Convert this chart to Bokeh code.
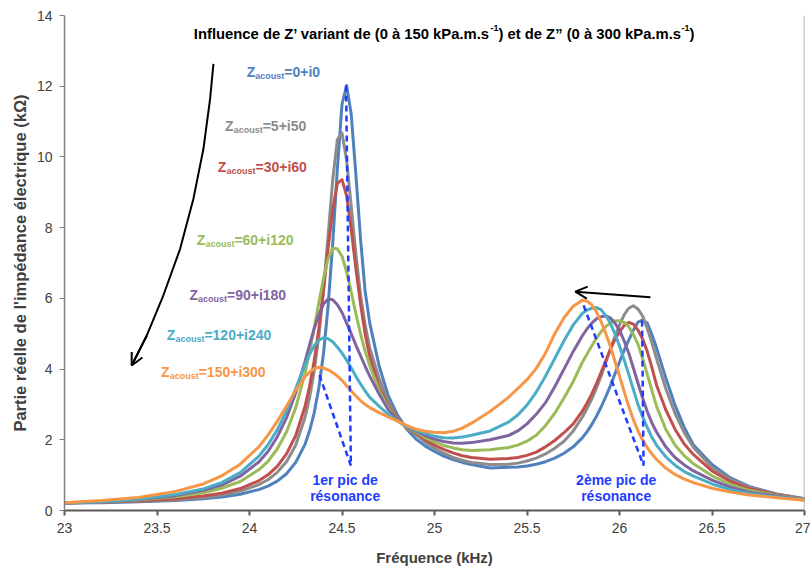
from bokeh.plotting import figure
from bokeh.models import Range1d, FixedTicker, Label, Arrow, OpenHead, Span
from bokeh.embed import file_html
from bokeh.resources import INLINE

# ---------------- data ----------------
freq_khz = [23.0, 23.2, 23.4, 23.6, 23.75, 23.85, 23.95, 24.05, 24.1, 24.15,
            24.2, 24.25, 24.3, 24.325, 24.35, 24.375, 24.4, 24.425, 24.45, 24.475,
            24.5, 24.525, 24.55, 24.575, 24.6, 24.625, 24.65, 24.7, 24.75, 24.8,
            24.85, 24.9, 24.95, 25.0, 25.05, 25.1, 25.15, 25.2, 25.3, 25.4,
            25.45, 25.5, 25.55, 25.6, 25.65, 25.7, 25.75, 25.8, 25.825, 25.85,
            25.875, 25.9, 25.925, 25.95, 25.975, 26.0, 26.025, 26.05, 26.075, 26.1,
            26.125, 26.15, 26.175, 26.2, 26.25, 26.3, 26.35, 26.4, 26.5, 26.6,
            26.7, 26.85, 27.0]

z_0_i0 = [0.21, 0.22, 0.25, 0.28, 0.33, 0.38, 0.46, 0.59, 0.69, 0.83,
          1.04, 1.36, 1.87, 2.26, 2.77, 3.47, 4.44, 5.79, 7.57, 9.67,
          11.49, 12.02, 11.2, 9.5, 7.7, 6.2, 5.3, 4.1, 3.25, 2.7,
          2.3, 2.02, 1.82, 1.67, 1.54, 1.44, 1.36, 1.3, 1.2, 1.22,
          1.23, 1.26, 1.31, 1.38, 1.48, 1.62, 1.8, 2.06, 2.23, 2.43,
          2.66, 2.92, 3.21, 3.52, 3.86, 4.2, 4.53, 4.82, 5.1, 5.33,
          5.39, 5.3, 4.98, 4.6, 3.75, 2.98, 2.35, 1.85, 1.3, 0.92,
          0.68, 0.47, 0.33]
z_5_i50 = [0.21, 0.23, 0.26, 0.30, 0.37, 0.44, 0.55, 0.73, 0.87, 1.08,
           1.38, 1.85, 2.63, 3.2, 3.95, 4.95, 6.24, 7.78, 9.36, 10.49,
           10.68, 9.9, 8.6, 7.25, 6.1, 5.25, 4.6, 3.75, 3.08, 2.62,
           2.32, 2.15, 1.93, 1.76, 1.62, 1.5, 1.42, 1.36, 1.3, 1.31,
           1.34, 1.4, 1.48, 1.6, 1.76, 1.96, 2.25, 2.65, 2.89, 3.15,
           3.46, 3.8, 4.17, 4.55, 4.92, 5.25, 5.53, 5.72, 5.79, 5.7,
           5.5, 5.15, 4.75, 4.3, 3.45, 2.75, 2.2, 1.78, 1.22, 0.88,
           0.66, 0.46, 0.33]
z_30_i60 = [0.21, 0.24, 0.27, 0.33, 0.41, 0.49, 0.62, 0.84, 1.01, 1.25,
            1.6, 2.12, 2.94, 3.52, 4.24, 5.15, 6.23, 7.42, 8.53, 9.25,
            9.36, 8.9, 7.95, 6.85, 5.85, 5.0, 4.35, 3.5, 2.95, 2.6,
            2.33, 2.2, 2.0, 1.85, 1.73, 1.63, 1.55, 1.5, 1.45, 1.47,
            1.5, 1.56, 1.65, 1.8, 1.98, 2.2, 2.45, 2.82, 3.04, 3.3,
            3.58, 3.9, 4.23, 4.55, 4.83, 5.05, 5.23, 5.32, 5.27, 5.1,
            4.85, 4.5, 4.05, 3.55, 2.85, 2.3, 1.88, 1.58, 1.12, 0.82,
            0.62, 0.44, 0.32]
z_60_i120 = [0.22, 0.25, 0.30, 0.39, 0.5, 0.63, 0.82, 1.15, 1.39, 1.74,
             2.22, 2.91, 3.88, 4.49, 5.17, 5.88, 6.57, 7.12, 7.42, 7.4,
             7.19, 6.75, 6.18, 5.57, 5.0, 4.5, 4.1, 3.4, 2.9, 2.57,
             2.34, 2.22, 2.06, 1.94, 1.84, 1.77, 1.72, 1.7, 1.72, 1.78,
             1.85, 1.96, 2.13, 2.4, 2.75, 3.18, 3.65, 4.2, 4.43, 4.65,
             4.87, 5.05, 5.2, 5.3, 5.36, 5.37, 5.32, 5.2, 4.98, 4.7,
             4.3, 3.85, 3.4, 2.95, 2.3, 1.85, 1.55, 1.32, 0.98, 0.74,
             0.57, 0.42, 0.31]
z_90_i180 = [0.21, 0.25, 0.31, 0.42, 0.57, 0.72, 0.97, 1.37, 1.67, 2.08,
             2.62, 3.33, 4.21, 4.69, 5.15, 5.55, 5.84, 5.98, 5.96, 5.82,
             5.6, 5.3, 5.0, 4.68, 4.38, 4.08, 3.8, 3.3, 2.85, 2.55,
             2.36, 2.25, 2.12, 2.02, 1.95, 1.91, 1.9, 1.92, 2.0, 2.12,
             2.25, 2.45, 2.72, 3.05, 3.5, 4.0, 4.5, 4.95, 5.14, 5.3,
             5.42, 5.48, 5.51, 5.45, 5.3, 5.1, 4.8, 4.45, 4.03, 3.6,
             3.18, 2.8, 2.48, 2.22, 1.8, 1.5, 1.29, 1.12, 0.86, 0.66,
             0.52, 0.4, 0.3]
z_120_i240 = [0.21, 0.25, 0.32, 0.45, 0.61, 0.79, 1.07, 1.53, 1.86, 2.28,
              2.81, 3.45, 4.12, 4.42, 4.66, 4.82, 4.88, 4.86, 4.77, 4.62,
              4.45, 4.25, 4.03, 3.8, 3.58, 3.38, 3.2, 2.95, 2.72, 2.53,
              2.38, 2.27, 2.18, 2.1, 2.06, 2.05, 2.08, 2.13, 2.25, 2.5,
              2.7, 2.98, 3.35, 3.8, 4.3, 4.8, 5.25, 5.58, 5.67, 5.72,
              5.74, 5.68, 5.52, 5.3, 5.0, 4.65, 4.26, 3.85, 3.42, 3.0,
              2.65, 2.35, 2.07, 1.85, 1.52, 1.28, 1.1, 0.97, 0.75, 0.59,
              0.48, 0.38, 0.3]
z_150_i300 = [0.22, 0.28, 0.37, 0.54, 0.75, 0.98, 1.31, 1.8, 2.13, 2.52,
              2.95, 3.4, 3.78, 3.92, 4.01, 4.05, 4.03, 3.98, 3.9, 3.8,
              3.68, 3.53, 3.38, 3.24, 3.11, 3.0, 2.91, 2.77, 2.65, 2.53,
              2.4, 2.3, 2.24, 2.21, 2.2, 2.24, 2.33, 2.47, 2.8, 3.2,
              3.45, 3.7, 4.02, 4.45, 5.0, 5.45, 5.78, 5.95, 5.92, 5.82,
              5.62, 5.35, 5.02, 4.65, 4.23, 3.8, 3.37, 2.95, 2.57, 2.25,
              1.99, 1.78, 1.6, 1.45, 1.2, 1.02, 0.89, 0.79, 0.63, 0.52,
              0.44, 0.36, 0.29]

series_values = [z_0_i0, z_5_i50, z_30_i60, z_60_i120, z_90_i180, z_120_i240, z_150_i300]
series_names = ["0+i0", "5+i50", "30+i60", "60+i120", "90+i180", "120+i240", "150+i300"]
series_colors = ["#4F81BD", "#8C8C8C", "#C0504D", "#9BBB59", "#8064A2", "#4BACC6", "#F79646"]

x_ticks = [23, 23.5, 24, 24.5, 25, 25.5, 26, 26.5, 27]
x_tick_labels = ["23", "23.5", "24", "24.5", "25", "25.5", "26", "26.5", "27"]
y_ticks = [0, 2, 4, 6, 8, 10, 12, 14]

# annotation positions (data coordinates)
label_pos = [(23.985, 12.217), (23.868, 10.681), (23.829, 9.511), (23.715, 7.446),
             (23.675, 5.911), (23.553, 4.760), (23.522, 3.725)]
curve_arrow_x = [23.805, 23.787, 23.751, 23.697, 23.625, 23.534, 23.445, 23.363]
curve_arrow_y = [12.63, 11.64, 10.23, 8.82, 7.40, 6.08, 4.95, 4.10]
peak1_dash_x = [24.522, 24.548, 24.373]
peak1_dash_y = [12.02, 1.27, 3.91]
peak2_dash_x = [26.122, 26.130, 25.806]
peak2_dash_y = [5.37, 1.27, 5.80]

FONT = "Liberation Sans"
DY = 7  # raise text so its baseline sits where intended

p = figure(width=810, height=570, output_backend="svg", toolbar_location=None,
           x_range=Range1d(23, 27), y_range=Range1d(0, 14),
           min_border_left=64, min_border_right=6, min_border_top=15, min_border_bottom=60)
p.outline_line_color = None
p.grid.visible = False
p.background_fill_color = "white"
p.border_fill_color = "white"

for vals, col in zip(series_values, series_colors):
    p.line(freq_khz, vals, line_color=col, line_width=3, line_join="round")

# axes
p.xaxis.ticker = FixedTicker(ticks=x_ticks)
p.xaxis.major_label_overrides = {t: l for t, l in zip(x_ticks, x_tick_labels)}
p.yaxis.ticker = FixedTicker(ticks=y_ticks)
for ax in (p.xaxis, p.yaxis):
    ax.minor_tick_line_color = None
    ax.major_tick_in = 0
    ax.major_tick_out = 5
    ax.major_label_text_font = FONT
    ax.major_label_text_font_size = "14px"
    ax.major_label_text_color = "#404040"
    ax.axis_label_text_font = FONT
    ax.axis_label_text_font_style = "bold"
    ax.axis_label_text_color = "#404040"
    ax.major_label_standoff = 7
p.xaxis.axis_line_color = "#595959"
p.xaxis.axis_line_width = 2
p.xaxis.major_tick_line_color = "#595959"
p.xaxis.major_tick_line_width = 2
p.yaxis.axis_line_color = "#7F7F7F"
p.yaxis.axis_line_width = 1.5
p.yaxis.major_tick_line_color = "#7F7F7F"
p.xaxis.axis_label = "Fréquence (kHz)"
p.xaxis.axis_label_text_font_size = "15px"
p.xaxis.axis_label_standoff = 13
p.yaxis.axis_label = "Partie réelle de l'impédance électrique (kΩ)"
p.yaxis.axis_label_text_font_size = "16.5px"
p.yaxis.axis_label_standoff = 5

p.add_layout(Span(location=27, dimension="height", line_color="#A0A0A0", line_width=1.5))

# title, with raised "-1"
title_parts = [("Influence de Z\u2019 variant de (0 à 150 kPa.m.s", 0.0, 0, "14.8px"),
               ("-1", 296.6, 5.5, "9px"),
               (") et de Z\u201d (0 à 300 kPa.m.s", 304.6, 0, "14.8px"),
               ("-1", 487.7, 5.5, "9px"),
               (")", 495.7, 0, "14.8px")]
for txt, xo, yo, fs in title_parts:
    p.add_layout(Label(x=23.699, y=13.29, text=txt, x_offset=xo, y_offset=yo + DY,
                       text_font=FONT, text_font_size=fs, text_font_style="bold",
                       text_color="black", text_align="left", text_baseline="alphabetic"))

# series labels
for (lx, ly), name, col in zip(label_pos, series_names, series_colors):
    common = dict(x=lx, y=ly, text_font=FONT, text_font_style="bold", text_color=col,
                  text_align="left", text_baseline="alphabetic")
    p.add_layout(Label(text="Z", text_font_size="14px", y_offset=DY, **common))
    p.add_layout(Label(text="acoust", text_font_size="9px", x_offset=8.6, y_offset=DY - 4, **common))
    p.add_layout(Label(text="=" + name, text_font_size="14px", x_offset=37.6, y_offset=DY, **common))

# blue dashed guide lines
p.line(peak1_dash_x, peak1_dash_y, line_color="#1F3CFF", line_width=2.5, line_dash="6 4")
p.line(peak2_dash_x, peak2_dash_y, line_color="#1F3CFF", line_width=2.5, line_dash="6 4")

for cx, t1, t2 in [(24.517, "1er pic de", "résonance"), (25.982, "2ème pic de", "résonance")]:
    for yy, t in [(0.664, t1), (0.198, t2)]:
        p.add_layout(Label(x=cx, y=yy, text=t, y_offset=DY, text_font=FONT, text_font_size="14px",
                           text_font_style="bold", text_color="#1F3CFF",
                           text_align="center", text_baseline="alphabetic"))

# black arrows
p.line(curve_arrow_x, curve_arrow_y, line_color="black", line_width=2)
p.add_layout(Arrow(end=OpenHead(size=12, line_width=2, line_color="black"),
                   x_start=curve_arrow_x[-2], y_start=curve_arrow_y[-2],
                   x_end=curve_arrow_x[-1], y_end=curve_arrow_y[-1],
                   line_width=2, line_color="black"))
p.add_layout(Arrow(end=OpenHead(size=12, line_width=2, line_color="black"),
                   x_start=26.167, y_start=6.03, x_end=25.761, y_end=6.19,
                   line_width=2, line_color="black"))

open("out.html", "w").write(file_html(p, INLINE))
